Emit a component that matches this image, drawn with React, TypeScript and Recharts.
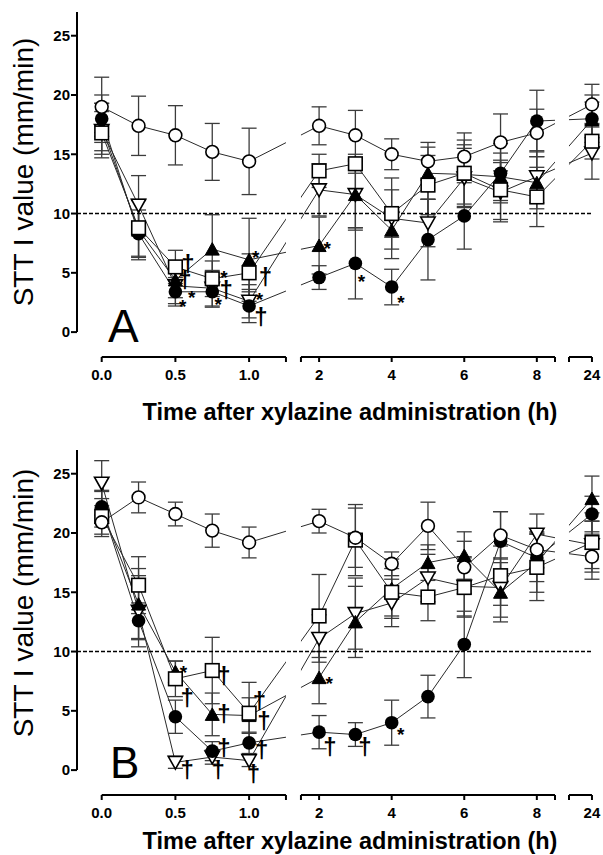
import React from 'react';
import {
  ComposedChart,
  Line,
  Scatter,
  XAxis,
  YAxis,
  ErrorBar,
  ReferenceLine,
  ReferenceArea,
} from 'recharts';

const FONT = '"Liberation Sans", Arial, Helvetica, sans-serif';

// ---------- data ----------
const TIMES = [0, 0.25, 0.5, 0.75, 1, 2, 3, 4, 5, 6, 7, 8, 24];

// Panel A
const A_OPEN_CIRCLE = [19.0, 17.4, 16.6, 15.2, 14.4, 17.4, 16.6, 15.0, 14.4, 14.8, 16.0, 16.8, 19.2];
const A_OPEN_CIRCLE_SD = [2.5, 2.5, 2.5, 2.4, 2.8, 1.6, 2.1, 1.3, 1.6, 2.0, 2.4, 2.0, 1.7];
const A_FILLED_CIRCLE = [18.0, 8.3, 3.4, 3.4, 2.2, 4.6, 5.8, 3.8, 7.8, 9.8, 13.4, 17.8, 18.0];
const A_FILLED_CIRCLE_SD = [2.0, 2.0, 1.2, 1.3, 1.4, 1.0, 3.0, 1.5, 3.4, 2.8, 2.5, 2.6, 2.0];
const A_OPEN_SQUARE = [16.8, 8.8, 5.5, 4.5, 5.0, 13.6, 14.2, 10.0, 12.4, 13.4, 12.0, 11.4, 16.1];
const A_OPEN_SQUARE_SD = [1.8, 2.4, 1.4, 1.5, 1.6, 1.4, 0.8, 2.0, 2.5, 2.8, 2.5, 2.5, 1.5];
const A_FILLED_TRIANGLE = [17.3, 8.6, 4.4, 7.0, 6.1, 7.3, 11.6, 8.6, 13.4, 13.3, 13.1, 12.6, 17.9];
const A_FILLED_TRIANGLE_SD = [2.0, 2.5, 1.5, 2.9, 3.5, 2.4, 2.8, 1.6, 2.2, 2.5, 2.0, 2.2, 1.5];
const A_OPEN_INV_TRIANGLE = [17.0, 10.7, 3.9, 3.7, 2.6, 12.0, 11.6, 9.6, 9.2, 13.0, 11.8, 13.1, 15.1];
const A_OPEN_INV_TRIANGLE_SD = [2.3, 2.5, 1.5, 1.5, 1.4, 2.2, 3.0, 3.4, 2.0, 2.5, 2.5, 2.2, 2.2];

// Panel B
const B_OPEN_CIRCLE = [20.9, 23.0, 21.6, 20.2, 19.2, 21.0, 19.6, 17.4, 20.6, 17.1, 19.8, 18.6, 18.0];
const B_OPEN_CIRCLE_SD = [1.2, 1.3, 1.0, 1.4, 1.3, 1.0, 2.5, 1.0, 2.0, 2.2, 2.0, 1.5, 1.9];
const B_FILLED_CIRCLE = [22.2, 12.6, 4.5, 1.6, 2.3, 3.2, 3.0, 4.0, 6.2, 10.6, 19.3, 17.9, 21.6];
const B_FILLED_CIRCLE_SD = [1.4, 1.5, 1.4, 0.8, 0.9, 1.4, 1.0, 1.9, 1.8, 2.8, 2.5, 2.0, 1.5];
const B_OPEN_SQUARE = [21.4, 15.6, 7.7, 8.4, 4.8, 13.0, 19.4, 15.0, 14.6, 15.4, 16.4, 17.1, 19.2];
const B_OPEN_SQUARE_SD = [1.5, 2.4, 1.5, 2.8, 2.6, 3.5, 3.0, 2.0, 2.0, 2.5, 2.5, 2.8, 2.5];
const B_FILLED_TRIANGLE = [22.0, 14.0, 8.3, 4.7, 4.6, 7.8, 12.5, 15.3, 17.5, 18.1, 15.0, 17.5, 22.9];
const B_FILLED_TRIANGLE_SD = [1.5, 3.0, 0.9, 1.8, 1.5, 2.2, 3.0, 2.5, 1.5, 2.0, 2.5, 2.5, 1.9];
const B_OPEN_INV_TRIANGLE = [24.2, 13.4, 0.65, 1.1, 0.8, 11.1, 13.2, 14.1, 16.2, 15.5, 15.4, 19.9, 19.0];
const B_OPEN_INV_TRIANGLE_SD = [1.9, 3.0, 0.5, 0.6, 0.5, 2.0, 3.0, 2.0, 2.0, 2.5, 2.5, 1.7, 2.0];

// significance marks (time, value where the symbol sits, symbol)
const A_MARKS = [
  { t: 0.585, v: 5.7, s: '†' },
  { t: 0.565, v: 4.3, s: '†' },
  { t: 0.61, v: 3.3, s: '*' },
  { t: 0.55, v: 2.5, s: '*' },
  { t: 0.83, v: 5.0, s: '*' },
  { t: 0.845, v: 3.5, s: '†' },
  { t: 0.79, v: 2.7, s: '*' },
  { t: 1.045, v: 6.7, s: '*' },
  { t: 1.11, v: 4.6, s: '†' },
  { t: 1.07, v: 3.1, s: '*' },
  { t: 1.08, v: 1.2, s: '†' },
  { t: 2.225, v: 7.41, s: '*' },
  { t: 3.17, v: 4.67, s: '*' },
  { t: 4.255, v: 2.9, s: '*' },
];
const B_MARKS = [
  { t: 0.554, v: 8.6, s: '*' },
  { t: 0.58, v: 6.0, s: '†' },
  { t: 0.58, v: -0.1, s: '†' },
  { t: 0.83, v: 7.9, s: '†' },
  { t: 0.83, v: 4.7, s: '†' },
  { t: 0.83, v: 1.8, s: '†' },
  { t: 0.79, v: -0.1, s: '†' },
  { t: 1.07, v: 5.8, s: '†' },
  { t: 1.1, v: 4.1, s: '†' },
  { t: 1.085, v: 1.6, s: '†' },
  { t: 1.03, v: -0.4, s: '†' },
  { t: 2.28, v: 7.68, s: '*' },
  { t: 2.3, v: 1.92, s: '†' },
  { t: 3.26, v: 1.92, s: '†' },
  { t: 4.25, v: 3.33, s: '*' },
];

const X_TICK_TIMES = [0, 0.5, 1, 1.25, 1.5, 2, 4, 6, 8, 8.5, 23.4, 24];
const X_TICK_LABELS = ['0.0', '0.5', '1.0', '', '', '2', '4', '6', '8', '', '', '24'];
const Y_TICKS = [0, 5, 10, 15, 20, 25];
const THRESHOLD = 10;

// ---------- broken time axis ----------
const SEGMENTS = [
  { t0: 0, t1: 1.25, pxPerHour: 147.4 },
  { t0: 1.5, t1: 8.5, pxPerHour: 36.29 },
  { t0: 23.4, t1: 24, pxPerHour: 38.3 },
];
const GAPS = [15, 14];

const axisPos = (t: number): number => {
  let offset = 0;
  for (let i = 0; i < SEGMENTS.length; i++) {
    const s = SEGMENTS[i];
    if (t <= s.t1 || i === SEGMENTS.length - 1) return offset + (t - s.t0) * s.pxPerHour;
    offset += (s.t1 - s.t0) * s.pxPerHour + GAPS[i];
  }
  return offset;
};

const U_MIN = -24.7;
const U_MAX = 501.3;
const Y_MIN = -2.1;
const Y_MAX = 27;

// ---------- markers ----------
type Shape = 'openCircle' | 'filledCircle' | 'openSquare' | 'filledTriangle' | 'openInvTriangle';

const makeDot = (shape: Shape) => (p: any) => {
  const { cx, cy, index } = p;
  const key = `d-${shape}-${index}`;
  if (cx == null || cy == null) return <g key={key} />;
  switch (shape) {
    case 'openCircle':
      return <circle key={key} cx={cx} cy={cy} r={6.4} fill="#fff" stroke="#000" strokeWidth={1.6} />;
    case 'filledCircle':
      return <circle key={key} cx={cx} cy={cy} r={6.8} fill="#000" />;
    case 'openSquare':
      return <rect key={key} x={cx - 6.8} y={cy - 6.8} width={13.6} height={13.6} fill="#fff" stroke="#000" strokeWidth={1.6} />;
    case 'filledTriangle':
      return (
        <polygon
          key={key}
          points={`${cx},${cy - 6.5} ${cx - 7},${cy + 6} ${cx + 7},${cy + 6}`}
          fill="#000"
          stroke="#000"
          strokeWidth={1}
        />
      );
    case 'openInvTriangle':
    default:
      return (
        <polygon
          key={key}
          points={`${cx - 7.2},${cy - 6} ${cx + 7.2},${cy - 6} ${cx},${cy + 6.8}`}
          fill="#fff"
          stroke="#000"
          strokeWidth={1.6}
        />
      );
  }
};

const renderMark = (p: any) => {
  const { cx, cy, payload, index } = p;
  const dagger = payload.s === '†';
  return (
    <text
      key={`m-${index}`}
      x={cx}
      y={cy}
      dy={dagger ? '0.3em' : '0.57em'}
      textAnchor="middle"
      fontSize={dagger ? 24 : 19}
      fontWeight={700}
      fill="#000"
      fontFamily={FONT}
    >
      {payload.s}
    </text>
  );
};

type Series = { key: string; shape: Shape; values: number[]; sd: number[] };

const seriesA: Series[] = [
  { key: 'invTri', shape: 'openInvTriangle', values: A_OPEN_INV_TRIANGLE, sd: A_OPEN_INV_TRIANGLE_SD },
  { key: 'fCircle', shape: 'filledCircle', values: A_FILLED_CIRCLE, sd: A_FILLED_CIRCLE_SD },
  { key: 'fTri', shape: 'filledTriangle', values: A_FILLED_TRIANGLE, sd: A_FILLED_TRIANGLE_SD },
  { key: 'square', shape: 'openSquare', values: A_OPEN_SQUARE, sd: A_OPEN_SQUARE_SD },
  { key: 'oCircle', shape: 'openCircle', values: A_OPEN_CIRCLE, sd: A_OPEN_CIRCLE_SD },
];
const seriesB: Series[] = [
  { key: 'invTri', shape: 'openInvTriangle', values: B_OPEN_INV_TRIANGLE, sd: B_OPEN_INV_TRIANGLE_SD },
  { key: 'fCircle', shape: 'filledCircle', values: B_FILLED_CIRCLE, sd: B_FILLED_CIRCLE_SD },
  { key: 'fTri', shape: 'filledTriangle', values: B_FILLED_TRIANGLE, sd: B_FILLED_TRIANGLE_SD },
  { key: 'square', shape: 'openSquare', values: B_OPEN_SQUARE, sd: B_OPEN_SQUARE_SD },
  { key: 'oCircle', shape: 'openCircle', values: B_OPEN_CIRCLE, sd: B_OPEN_CIRCLE_SD },
];

const tickStyle = { fontSize: 15, fontWeight: 700, fill: '#000', fontFamily: FONT };

function Panel({ top, series, marks }: { top: number; series: Series[]; marks: { t: number; v: number; s: string }[] }) {
  const rows = TIMES.map((t, i) => {
    const r: any = { u: axisPos(t) };
    series.forEach((s) => {
      r[s.key] = s.values[i];
      r[s.key + 'Sd'] = s.sd[i];
    });
    return r;
  });
  const markData = marks.map((m) => ({ u: axisPos(m.t), v: m.v, s: m.s }));
  return (
    <div style={{ position: 'absolute', left: 0, top }}>
      <ComposedChart width={603} height={397} data={rows} margin={{ top: 12, right: 0, bottom: 0, left: 0 }}>
        <XAxis
          type="number"
          dataKey="u"
          domain={[U_MIN, U_MAX]}
          allowDataOverflow
          ticks={X_TICK_TIMES.map(axisPos)}
          interval={0}
          tickFormatter={(_v: any, i: number) => X_TICK_LABELS[i]}
          axisLine={false}
          tickLine={{ stroke: '#000', strokeWidth: 2 }}
          tickSize={5}
          tickMargin={7}
          height={40}
          tick={tickStyle}
        />
        <YAxis
          type="number"
          domain={[Y_MIN, Y_MAX]}
          allowDataOverflow
          ticks={Y_TICKS}
          interval={0}
          width={77}
          axisLine={false}
          tickLine={{ stroke: '#000', strokeWidth: 2 }}
          tickSize={6}
          tickMargin={1}
          tick={tickStyle}
        />
        {series.map((s) => (
          <Line
            key={s.key}
            type="linear"
            dataKey={s.key}
            stroke="#2a2a2a"
            strokeWidth={1}
            dot={makeDot(s.shape)}
            activeDot={false}
            isAnimationActive={false}
          >
            <ErrorBar dataKey={s.key + 'Sd'} direction="y" width={7.5} stroke="#3c3c3c" strokeWidth={1.3} />
          </Line>
        ))}
        <ReferenceArea
          x1={axisPos(1.25)}
          x2={axisPos(1.5)}
          y1={Y_MIN}
          y2={Y_MAX}
          fill="#fff"
          fillOpacity={1}
          stroke="none"
          ifOverflow="visible"
          zIndex={450}
        />
        <ReferenceArea
          x1={axisPos(8.5)}
          x2={axisPos(23.4)}
          y1={Y_MIN}
          y2={Y_MAX}
          fill="#fff"
          fillOpacity={1}
          stroke="none"
          ifOverflow="visible"
          zIndex={450}
        />
        <ReferenceLine
          segment={[
            { x: U_MIN, y: THRESHOLD },
            { x: axisPos(24), y: THRESHOLD },
          ]}
          stroke="#000"
          strokeWidth={1.5}
          strokeDasharray="4 2"
          ifOverflow="visible"
          zIndex={460}
        />
        <ReferenceLine
          segment={[
            { x: U_MIN, y: 0 },
            { x: U_MIN, y: Y_MAX },
          ]}
          stroke="#000"
          strokeWidth={2}
          ifOverflow="visible"
          zIndex={470}
        />
        {SEGMENTS.map((s, i) => (
          <ReferenceLine
            key={`seg-${i}`}
            segment={[
              { x: axisPos(s.t0), y: Y_MIN },
              { x: axisPos(s.t1), y: Y_MIN },
            ]}
            stroke="#000"
            strokeWidth={2}
            ifOverflow="visible"
            zIndex={470}
          />
        ))}
        <Scatter data={markData} dataKey="v" shape={renderMark} isAnimationActive={false} zIndex={480} />
      </ComposedChart>
    </div>
  );
}

export default function App() {
  return (
    <div
      style={{
        position: 'absolute',
        left: 0,
        top: 0,
        width: 603,
        height: 855,
        background: '#fff',
        fontFamily: FONT,
        overflow: 'hidden',
      }}
    >
      <Panel top={0} series={seriesA} marks={A_MARKS} />
      <Panel top={438} series={seriesB} marks={B_MARKS} />
      <svg
        width={603}
        height={855}
        style={{ position: 'absolute', left: 0, top: 0, pointerEvents: 'none' }}
        fontFamily={FONT}
      >
        <text x={350} y={420} textAnchor="middle" fontSize={23.5} fontWeight={700} fill="#000">
          Time after xylazine administration (h)
        </text>
        <text x={350} y={849} textAnchor="middle" fontSize={23.5} fontWeight={700} fill="#000">
          Time after xylazine administration (h)
        </text>
        <text transform="translate(33,172) rotate(-90)" textAnchor="middle" fontSize={28} fill="#000">
          STT I value (mm/min)
        </text>
        <text transform="translate(33,603) rotate(-90)" textAnchor="middle" fontSize={28} fill="#000">
          STT I value (mm/min)
        </text>
        <text x={108} y={342} fontSize={46} fill="#000">
          A
        </text>
        <text x={110} y={778} fontSize={44} fill="#000">
          B
        </text>
      </svg>
    </div>
  );
}
